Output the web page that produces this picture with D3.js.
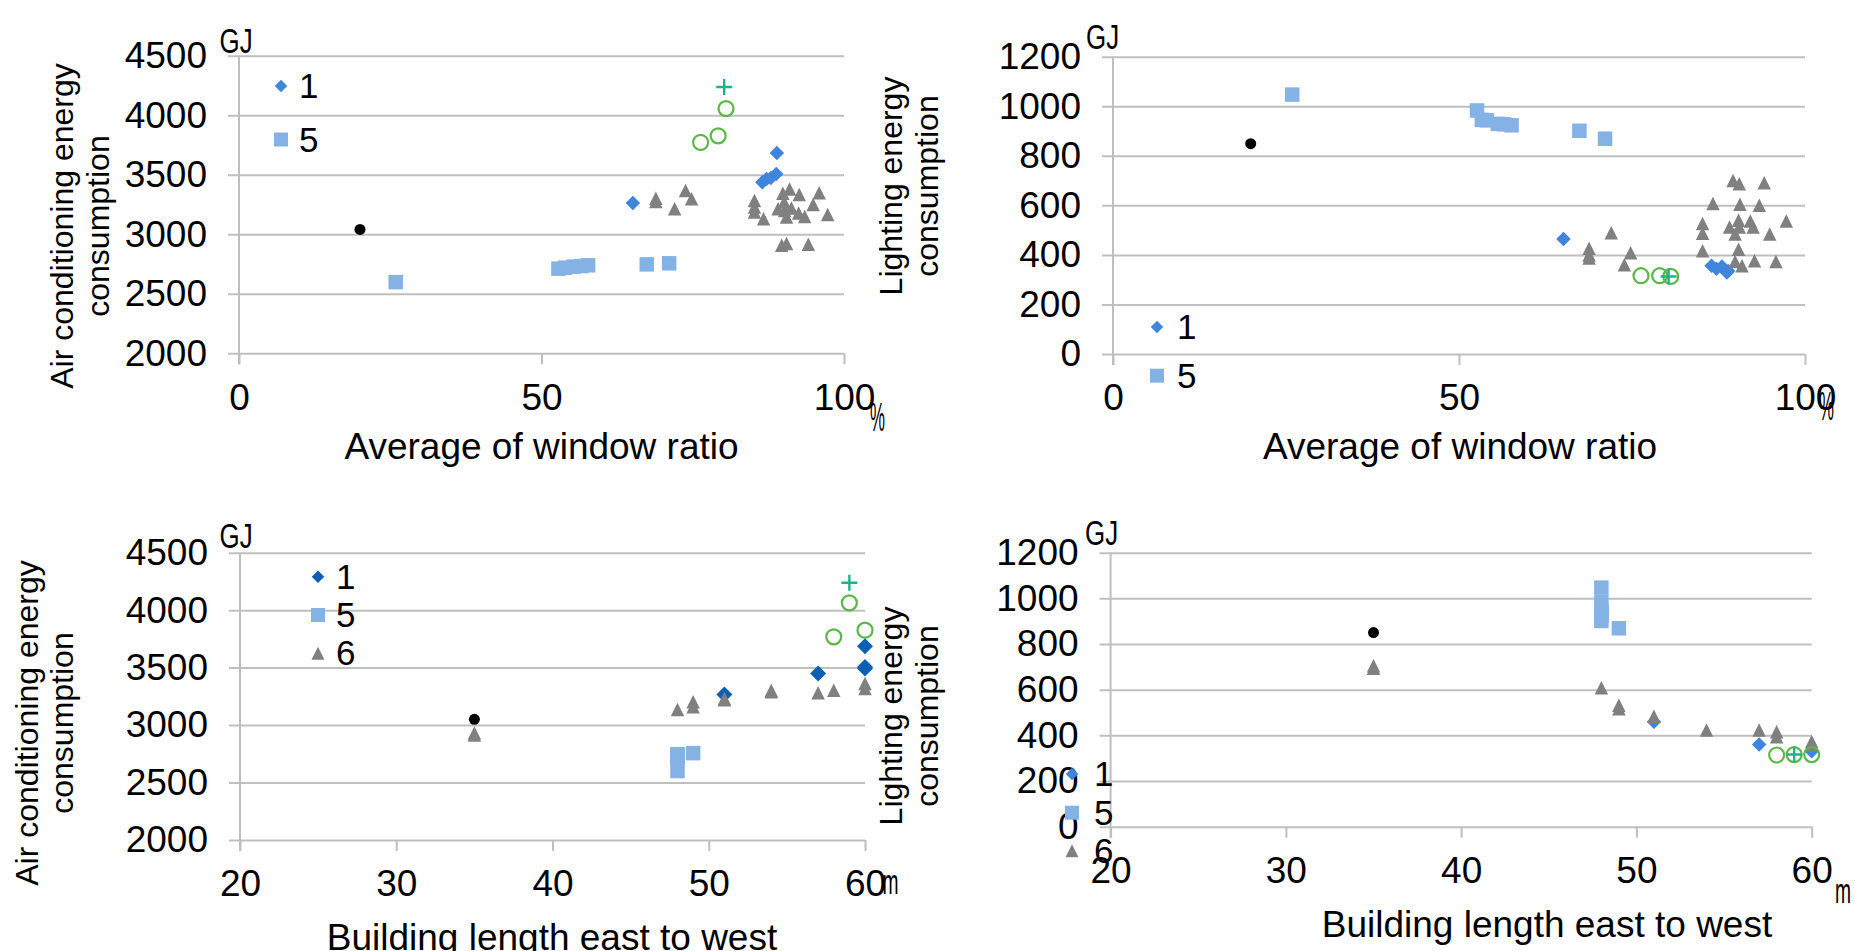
<!DOCTYPE html>
<html>
<head>
<meta charset="utf-8">
<script src="https://cdn.jsdelivr.net/npm/d3@7/dist/d3.min.js"></script>
<style>
  body { margin: 0; background: #fff; }
  svg { display: block; font-family: "Liberation Sans", Arial, sans-serif; }
  .axis line { stroke: #bfbfbf; stroke-width: 2; }
  .axis text { font-size: 37px; fill: #000; font-family: "Liberation Sans", Arial, sans-serif; }
  .vaxis { stroke: #bfbfbf; stroke-width: 2; }
  .title { font-size: 37px; fill: #000; }
  .ytitle { font-size: 32px; fill: #000; }
  .unit { font-size: 36px; fill: #000; }
  .legend text { font-size: 35px; fill: #000; }
</style>
</head>
<body>
<svg width="1855" height="951"></svg>
<script>
// tick values
var acTicks = [2000, 2500, 3000, 3500, 4000, 4500],
    lightTicks = [0, 200, 400, 600, 800, 1000, 1200],
    ratioTicks = [0, 50, 100],
    lengthTicks = [20, 30, 40, 50, 60];

var legendLabels = ["1", "5", "6"];

// window ratio (%) vs air conditioning (GJ)
var ratioAc1 = [[65.1, 3262], [86.5, 3437], [87.2, 3465], [87.9, 3473], [88.8, 3507], [88.9, 3682]];
var ratioAc5 = [[25.9, 2598], [52.8, 2711], [53.9, 2719], [55.3, 2728], [56.6, 2733], [57.7, 2739], [67.4, 2747], [71.1, 2756]];
var ratioAc6 = [[68.9, 3303], [68.9, 3275], [72.0, 3214], [73.8, 3368], [74.8, 3298], [85.2, 3284], [85.2, 3228],
                [85.2, 3186], [86.7, 3131], [89.9, 3345], [91.0, 3381], [90.1, 3270], [89.1, 3214], [90.2, 3200],
                [90.5, 3145], [91.3, 3220], [92.6, 3334], [92.5, 3178], [93.5, 3150], [94.9, 3250], [95.9, 3348],
                [97.3, 3167], [89.7, 2908], [90.5, 2922], [94.1, 2916]];
var ratioAcDot = [[20.0, 3041]];
var ratioAcRing = [[76.3, 3772], [79.2, 3827], [80.5, 4056]];
var ratioAcPlus = [[80.2, 4237]];

// window ratio (%) vs lighting (GJ)
var ratioLight1 = [[65.1, 464], [86.5, 356], [87.2, 344], [88.0, 353], [88.7, 329], [88.9, 335]];
var ratioLight5 = [[25.9, 1047], [52.6, 983], [53.3, 945], [54.0, 943], [55.6, 929], [56.5, 927], [57.6, 923], [67.4, 901], [71.1, 869]];
var ratioLight6 = [[68.8, 427], [68.8, 400], [68.8, 387], [72.0, 489], [74.8, 409], [73.9, 360], [85.2, 527],
                   [85.2, 487], [85.2, 417], [86.7, 607], [89.6, 700], [90.5, 687], [94.1, 691], [90.6, 604],
                   [93.4, 600], [89.1, 513], [90.4, 540], [90.5, 513], [92.1, 537], [92.5, 513], [89.9, 484],
                   [90.4, 423], [89.9, 373], [90.9, 356], [92.7, 376], [94.9, 484], [97.3, 537], [95.8, 373]];
var ratioLightDot = [[19.9, 849]];
var ratioLightRing = [[76.3, 316], [79.0, 316], [80.6, 313]];
var ratioLightPlus = [[80.3, 313]];

// building length (m) vs air conditioning (GJ)
var lengthAc1 = [[51, 3267], [57, 3449], [60, 3687], [60, 3493], [60, 3505]];
var lengthAc5 = [[48, 2600], [48, 2711], [48, 2719], [48, 2728], [48, 2733], [48, 2739], [48, 2747], [49, 2756]];
var lengthAc6 = [[35, 2914], [35, 2930], [48, 3136], [49, 3203], [49, 3159], [51, 3232], [51, 3220],
                 [54, 3290], [54, 3300], [57, 3281], [58, 3304], [60, 3362], [60, 3319]];
var lengthAcDot = [[35, 3050]];
var lengthAcRing = [[58, 3768], [59, 4064], [60, 3826]];
var lengthAcPlus = [[59, 4238]];

// building length (m) vs lighting (GJ)
var lengthLight1 = [[51, 460], [57, 360], [60, 330]];
var lengthLight5 = [[48, 1047], [48, 983], [48, 945], [48, 943], [48, 929], [48, 927], [48, 923], [48, 901], [49, 869]];
var lengthLight6 = [[35, 694], [35, 705], [48, 609], [49, 532], [49, 517], [51, 484], [54, 423],
                    [57, 423], [58, 416], [58, 394], [60, 373], [60, 360]];
var lengthLightDot = [[35, 850]];
var lengthLightRing = [[58, 314], [59, 316], [60, 316]];
var lengthLightPlus = [[59, 316]];

var svg = d3.select("svg");

var colors = {diamond: "#3f85dc", square: "#85b2e5", triangle: "#808080", dot: "#000", ring: "#5cb748", plus: "#1ab58c"};

// marker shapes, centred on 0,0
function diamondPath(h) { return "M0," + (-h) + "L" + h + ",0L0," + h + "L" + (-h) + ",0Z"; }
function trianglePath(w, h) { return "M0," + (-h / 2) + "L" + (w / 2) + "," + (h / 2) + "L" + (-w / 2) + "," + (h / 2) + "Z"; }

function drawMarker(sel, type, size, color) {
  if (type === "diamond") {
    sel.append("path").attr("d", diamondPath(size / 2)).attr("fill", color);
  } else if (type === "square") {
    sel.append("rect").attr("x", -size / 2).attr("y", -size / 2).attr("width", size).attr("height", size).attr("fill", color);
  } else if (type === "triangle") {
    sel.append("path").attr("d", trianglePath(size, size)).attr("fill", color);
  } else if (type === "dot") {
    sel.append("circle").attr("r", size / 2).attr("fill", color);
  } else if (type === "ring") {
    sel.append("circle").attr("r", size / 2).attr("fill", "none").attr("stroke", color).attr("stroke-width", 2.2);
  } else if (type === "plus") {
    sel.append("path").attr("d", "M" + (-size / 2) + ",0H" + (size / 2) + "M0," + (-size / 2) + "V" + (size / 2))
      .attr("stroke", color).attr("stroke-width", 2.4);
  }
}

function panel(p) {
  var x = d3.scaleLinear().domain(p.xDomain).range([p.left, p.right]),
      y = d3.scaleLinear().domain(p.yDomain).range([p.bottom, p.top]);

  var g = svg.append("g");

  // gridlines + y tick labels
  g.append("g")
      .attr("class", "axis")
      .attr("transform", "translate(" + (p.left - 11) + ",0)")
      .call(d3.axisLeft(y).tickValues(p.yTicks).tickSize(-(p.right - p.left + 11)).tickPadding(21).tickFormat(d3.format("d")))
      .call(function(a) { a.select(".domain").remove(); });

  // x ticks
  g.append("g")
      .attr("class", "axis")
      .attr("transform", "translate(0," + p.bottom + ")")
      .call(d3.axisBottom(x).tickValues(p.xTicks).tickSize(11).tickPadding(19).tickFormat(d3.format("d")))
      .call(function(a) { a.select(".domain").remove(); });

  g.selectAll(".axis").attr("font-size", null).attr("font-family", null);

  // vertical axis line
  g.append("line")
      .attr("class", "vaxis")
      .attr("x1", x(p.xDomain[0])).attr("x2", x(p.xDomain[0]))
      .attr("y1", y(p.yDomain[1])).attr("y2", y(p.yDomain[0]) + 11);

  // series
  p.series.forEach(function(s) {
    g.append("g").selectAll("g")
        .data(s.data)
      .enter().append("g")
        .attr("transform", function(d) { return "translate(" + x(d[0]) + "," + y(d[1]) + ")"; })
        .each(function() { drawMarker(d3.select(this), s.type, s.size, s.color); });
  });

  // axis titles
  g.append("text")
      .attr("class", "title")
      .attr("x", p.xTitleX).attr("y", p.xTitleY)
      .attr("text-anchor", "middle")
      .text(p.xTitle);

  var yt = g.append("g")
      .attr("transform", "translate(" + p.yTitleX + "," + p.yTitleY + ") rotate(-90)");
  p.yTitle.forEach(function(line, i) {
    yt.append("text")
        .attr("class", "ytitle")
        .attr("text-anchor", "middle")
        .attr("y", i * 35.5)
        .text(line);
  });

  // units
  g.append("text")
      .attr("class", "unit")
      .attr("transform", "translate(" + p.gjX + "," + p.gjY + ") scale(0.72,1)")
      .text("GJ");
  g.append("text")
      .attr("transform", "translate(" + p.unitX + "," + p.unitY + ") scale(" + p.unitScale + ",1)")
      .attr("font-size", p.unitSize)
      .text(p.unit);

  // legend
  var leg = g.append("g").attr("class", "legend");
  p.legend.forEach(function(s, i) {
    var row = leg.append("g")
        .attr("transform", "translate(" + p.legendX + "," + p.legendY[i] + ")");
    drawMarker(row, s.type, s.legendSize, s.color);
    row.append("text")
        .attr("x", p.legendDx)
        .attr("y", 12)
        .text(legendLabels[i]);
  });
}

function seriesSet(d1, d5, d6, dot, ring, plus, diamondColor, diamondSize) {
  return [
    {type: "diamond", data: d1, size: diamondSize, color: diamondColor, legendSize: 12.5},
    {type: "square", data: d5, size: 14.5, color: colors.square, legendSize: 14},
    {type: "triangle", data: d6, size: 13.5, color: colors.triangle, legendSize: 13},
    {type: "dot", data: dot, size: 11, color: colors.dot},
    {type: "ring", data: ring, size: 15, color: colors.ring},
    {type: "plus", data: plus, size: 16, color: colors.plus}
  ];
}

var s1 = seriesSet(ratioAc1, ratioAc5, ratioAc6, ratioAcDot, ratioAcRing, ratioAcPlus, colors.diamond, 14.5),
    s2 = seriesSet(ratioLight1, ratioLight5, ratioLight6, ratioLightDot, ratioLightRing, ratioLightPlus, colors.diamond, 14.5),
    s3 = seriesSet(lengthAc1, lengthAc5, lengthAc6, lengthAcDot, lengthAcRing, lengthAcPlus, "#0d5fb3", 16),
    s4 = seriesSet(lengthLight1, lengthLight5, lengthLight6, lengthLightDot, lengthLightRing, lengthLightPlus, colors.diamond, 14.5);

panel({
  left: 239, right: 844, top: 55.7, bottom: 353.3,
  xDomain: [0, 100], yDomain: [2000, 4500], xTicks: ratioTicks, yTicks: acTicks,
  series: s1, legend: [s1[0], s1[1]], legendX: 281, legendY: [86, 139.5], legendDx: 18,
  xTitle: "Average of window ratio", xTitleX: 541.5, xTitleY: 459,
  yTitle: ["Air conditioning energy", "consumption"], yTitleX: 73, yTitleY: 226,
  gjX: 219.5, gjY: 53, unit: "%", unitX: 870, unitY: 431, unitScale: 0.42, unitSize: 40
});

panel({
  left: 1113, right: 1805, top: 56.7, bottom: 354,
  xDomain: [0, 100], yDomain: [0, 1200], xTicks: ratioTicks, yTicks: lightTicks,
  series: s2, legend: [s2[0], s2[1]], legendX: 1157, legendY: [327, 375.7], legendDx: 20,
  xTitle: "Average of window ratio", xTitleX: 1460, xTitleY: 459,
  yTitle: ["Lighting energy", "consumption"], yTitleX: 902, yTitleY: 186,
  gjX: 1086, gjY: 49, unit: "%", unitX: 1819, unitY: 420, unitScale: 0.42, unitSize: 40
});

panel({
  left: 240, right: 865, top: 552.7, bottom: 840,
  xDomain: [20, 60], yDomain: [2000, 4500], xTicks: lengthTicks, yTicks: acTicks,
  series: s3, legend: [s3[0], s3[1], s3[2]], legendX: 318, legendY: [576.7, 615, 653.3], legendDx: 18,
  xTitle: "Building length east to west", xTitleX: 552, xTitleY: 949.5,
  yTitle: ["Air conditioning energy", "consumption"], yTitleX: 37.5, yTitleY: 723,
  gjX: 219.5, gjY: 548, unit: "m", unitX: 882.6, unitY: 894, unitScale: 0.55, unitSize: 35
});

panel({
  left: 1110.6, right: 1811.7, top: 552.7, bottom: 826.7,
  xDomain: [20, 60], yDomain: [0, 1200], xTicks: lengthTicks, yTicks: lightTicks,
  series: s4, legend: [s4[0], s4[1], s4[2]], legendX: 1072, legendY: [774, 812.7, 850.7], legendDx: 22,
  xTitle: "Building length east to west", xTitleX: 1547, xTitleY: 936.5,
  yTitle: ["Lighting energy", "consumption"], yTitleX: 902, yTitleY: 716,
  gjX: 1085, gjY: 545, unit: "m", unitX: 1835, unitY: 903, unitScale: 0.55, unitSize: 35
});
</script>
</body>
</html>
